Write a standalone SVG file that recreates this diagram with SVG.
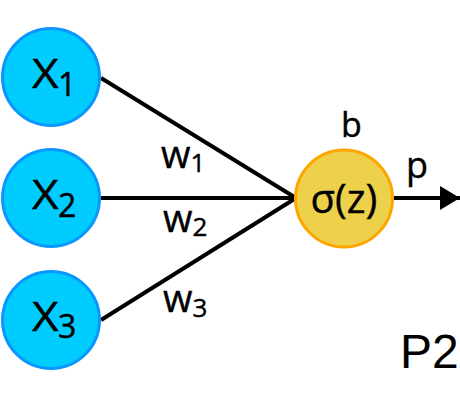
<svg xmlns="http://www.w3.org/2000/svg" width="460" height="398" viewBox="0 0 460 398">
<defs>
<style>
.in{fill:#00CCFF;stroke:#0A96FF;stroke-width:3}
.out{fill:#EDD14A;stroke:#FFA500;stroke-width:3}
.lbl{font-family:"Open Sans","Noto Sans",sans-serif;fill:#000;stroke:#000;stroke-width:0.4}
.big{font-size:40px}
.sub{font-size:32px}
.w{font-size:38px}
.wsub{font-size:26px}
.edge{stroke:#000;stroke-width:4;fill:none}
</style>
<marker id="ah" markerWidth="5" markerHeight="6" refX="5" refY="3" orient="auto" markerUnits="strokeWidth">
<path d="M0,0 L5,3 L0,6 Z" fill="#000"/>
</marker>
</defs>
<rect width="460" height="398" fill="#fff"/>
<g id="connectors">
<line class="edge" x1="101" y1="78" x2="296" y2="198"/>
<line class="edge" x1="101" y1="198" x2="296" y2="198"/>
<line class="edge" x1="101" y1="320" x2="296" y2="198"/>
<line class="edge" x1="394" y1="198" x2="460" y2="198" marker-end="url(#ah)"/>
<text class="lbl w" x="161" y="168">w<tspan class="wsub" dy="4">1</tspan></text>
<text class="lbl w" x="163" y="232">w<tspan class="wsub" dy="4">2</tspan></text>
<text class="lbl w" x="163" y="312">w<tspan class="wsub" dy="5">3</tspan></text>
<text class="lbl" font-size="34" x="341" y="137">b</text>
<text class="lbl" font-size="36" x="406" y="178">p</text>
</g>
<g id="x1">
<circle class="in" cx="51" cy="77" r="48.5"/>
<text class="lbl big" transform="translate(32,88) scale(1.15,1)">X</text>
<text class="lbl sub" x="58" y="96">1</text>
</g>
<g id="x2">
<circle class="in" cx="51" cy="198" r="48.5"/>
<text class="lbl big" transform="translate(32,209) scale(1.15,1)">X</text>
<text class="lbl sub" x="58" y="217">2</text>
</g>
<g id="x3">
<circle class="in" cx="51" cy="320" r="48.5"/>
<text class="lbl big" transform="translate(32,331) scale(1.15,1)">X</text>
<text class="lbl sub" x="58" y="338">3</text>
</g>
<g id="sigma">
<circle class="out" cx="344" cy="198.5" r="48.5"/>
<text class="lbl big" x="344" y="213" text-anchor="middle">σ(z)</text>
</g>
<text x="400" y="368" font-family="Liberation Sans, Arial, sans-serif" font-size="48" fill="#000">P2</text>
</svg>
